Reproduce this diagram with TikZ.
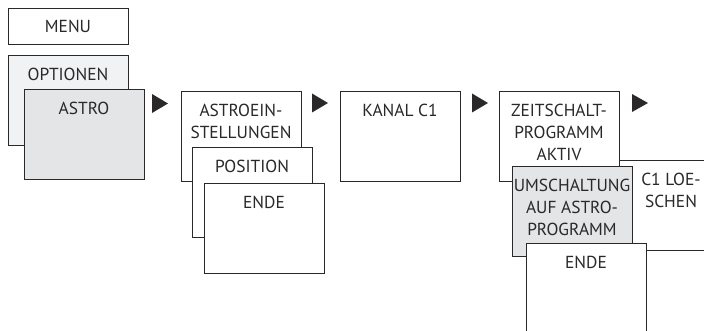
\documentclass[tikz,border=0pt]{standalone}
\usepackage{fontspec}
\setmainfont{PT Sans}
\usepackage{tikz}

\definecolor{inkgray}{HTML}{2A2829}
\definecolor{panelgray}{HTML}{F1F2F4}
\definecolor{selgray}{HTML}{E4E5E7}

\tikzset{
  screen/.style={rectangle, draw=inkgray, line width=0.9pt, fill=white,
    anchor=north west, minimum width=120pt, minimum height=90pt,
    inner sep=0pt, outer sep=0pt},
  caption/.style={anchor=north, inner sep=0pt, yshift=-12.5pt, align=center,
    text=inkgray, font=\fontsize{17.4}{22}\selectfont},
  nexttri/.style={fill=inkgray},
}

\begin{document}
\begin{tikzpicture}[x=1pt, y=-1pt]
  \clip (0,0) rectangle (704,331);

  % main menu
  \node (menu) [screen, minimum height=36pt, text=inkgray,
    font=\fontsize{17.4}{22}\selectfont] at (8,8) {MENU};
  \node (optionen) [screen, fill=panelgray, label={[caption]north:OPTIONEN}] at (8,55) {};
  \node (astro) [screen, fill=selgray, label={[caption]north:ASTRO}] at (24,89) {};

  % astro settings
  \node (astroein) [screen, label={[caption]north:ASTROEIN-\\STELLUNGEN}] at (181,91) {};
  \node (position) [screen, label={[caption]north:POSITION}] at (192,147) {};
  \node (endeA) [screen, label={[caption]north:ENDE}] at (204,183) {};

  % channel
  \node (kanal) [screen, label={[caption]north:KANAL C1}] at (340,91) {};

  % program
  \node (loeschen) [screen, label={[caption]north:C1 LOE-\\SCHEN}] at (611,160) {};
  \node (zeit) [screen, label={[caption]north:ZEITSCHALT-\\PROGRAMM\\AKTIV}] at (499,91) {};
  \node (umschalt) [screen, fill=selgray,
    label={[caption]north:UMSCHALTUNG\\AUF ASTRO-\\PROGRAMM}] at (512,166) {};
  \node (endeB) [screen, label={[caption]north:ENDE}] at (526,243) {};

  % next-step markers
  \fill[nexttri] (152,94) -- (168,103.5) -- (152,113) -- cycle;
  \fill[nexttri] (312,93.5) -- (328,103) -- (312,112.5) -- cycle;
  \fill[nexttri] (472,93.5) -- (488,103) -- (472,112.5) -- cycle;
  \fill[nexttri] (632,94) -- (648,103) -- (632,112) -- cycle;
\end{tikzpicture}
\end{document}
